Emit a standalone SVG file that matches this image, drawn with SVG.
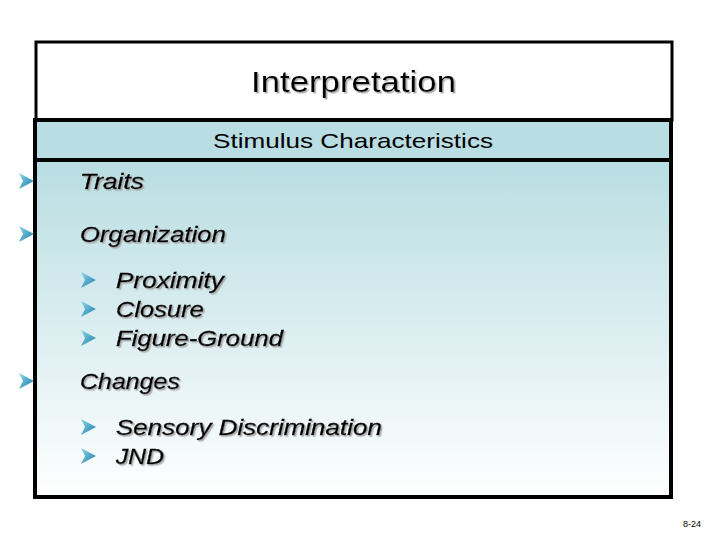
<svg xmlns="http://www.w3.org/2000/svg" width="720" height="540" viewBox="0 0 720 540">
<defs>
<linearGradient id="g" x1="0" y1="0" x2="0" y2="1"><stop offset="0" stop-color="#b8dde2"/><stop offset="1" stop-color="#ffffff"/></linearGradient>
<linearGradient id="ar" x1="0" y1="0" x2="1" y2="1"><stop offset="0" stop-color="#8fd4ea"/><stop offset="1" stop-color="#1a7fa8"/></linearGradient>
<filter id="sh" x="-5%" y="-20%" width="110%" height="140%"><feDropShadow dx="1.5" dy="1.5" stdDeviation="0.4" flood-color="#aaa"/></filter>
<g id="arr"><path d="M0,-8 L15,0 L0,8 L4,0 Z" fill="url(#ar)"/></g>
</defs>
<style>
.t{font-family:"Liberation Sans",Arial,sans-serif;fill:#000}
.b{font-size:22px;font-style:italic;filter:url(#sh);stroke:#000;stroke-width:0.4}
</style>
<rect width="720" height="540" fill="#fff"/>
<g id="title"><rect x="36" y="42" width="636" height="78" fill="#fff" stroke="#000" stroke-width="3"/>
<text class="t" x="251" y="92" font-size="30" textLength="205" lengthAdjust="spacingAndGlyphs" filter="url(#sh)">Interpretation</text></g>
<g id="body"><rect x="35" y="160" width="636" height="337" fill="url(#g)" stroke="#000" stroke-width="4"/></g>
<g id="header"><rect x="35" y="120" width="636" height="40" fill="#b8dde2" stroke="#000" stroke-width="4"/>
<text class="t" x="213" y="148" font-size="21" textLength="280" lengthAdjust="spacingAndGlyphs">Stimulus Characteristics</text></g>
<g id="bullets">
<use href="#arr" x="19" y="181"/><text class="t b" x="80" y="189" textLength="64" lengthAdjust="spacingAndGlyphs">Traits</text>
<use href="#arr" x="19" y="234"/><text class="t b" x="80" y="242" textLength="146" lengthAdjust="spacingAndGlyphs">Organization</text>
<use href="#arr" x="81" y="280"/><text class="t b" x="116" y="288" textLength="108" lengthAdjust="spacingAndGlyphs">Proximity</text>
<use href="#arr" x="81" y="309"/><text class="t b" x="116" y="317" textLength="88" lengthAdjust="spacingAndGlyphs">Closure</text>
<use href="#arr" x="81" y="338"/><text class="t b" x="116" y="346" textLength="167" lengthAdjust="spacingAndGlyphs">Figure-Ground</text>
<use href="#arr" x="19" y="381"/><text class="t b" x="80" y="389" textLength="100" lengthAdjust="spacingAndGlyphs">Changes</text>
<use href="#arr" x="81" y="427"/><text class="t b" x="116" y="435" textLength="266" lengthAdjust="spacingAndGlyphs">Sensory Discrimination</text>
<use href="#arr" x="81" y="456"/><text class="t b" x="116" y="464" textLength="48" lengthAdjust="spacingAndGlyphs">JND</text>
</g>
<text class="t" x="692" y="527" font-size="9" text-anchor="middle">8-24</text>
</svg>
